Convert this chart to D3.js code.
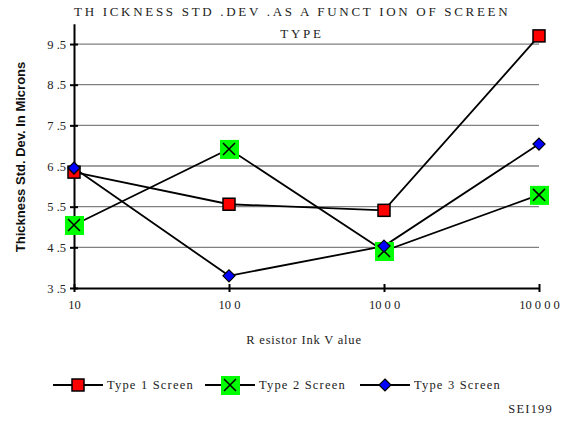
<!DOCTYPE html>
<html>
<head>
<script src="https://d3js.org/d3.v7.min.js"></script>
<style>
  body { margin: 0; background: #fff; }
  text { font-family: "Liberation Serif", serif; }
</style>
</head>
<body>
<svg width="572" height="430"></svg>
<script>
  const inkValues = [10, 100, 1000, 10000];
  const type1 = [6.35, 5.56, 5.41, 9.7];
  const type2 = [5.05, 6.92, 4.41, 5.79];
  const type3 = [6.45, 3.8, 4.53, 7.04];
  const yTicks = [3.5, 4.5, 5.5, 6.5, 7.5, 8.5, 9.5];
  const xTickLabels = ["10", "10 0", "10 0 0", "10 0 0 0"];

  const svg = d3.select("svg");
  const x = d3.scaleLog().domain([10, 10000]).range([74, 539]);
  const y = d3.scaleLinear().domain([3.5, 10]).range([288, 23.7]);

  // grid
  svg.append("g").selectAll("line")
    .data(yTicks.slice(1))
    .enter().append("line")
    .attr("x1", 74).attr("x2", 539)
    .attr("y1", d => y(d)).attr("y2", d => y(d))
    .attr("stroke", "#808080").attr("stroke-width", 1.3);

  // y axis
  const yAxis = d3.axisLeft(y).tickValues(yTicks).tickSize(0).tickPadding(8)
    .tickFormat(d => d3.format(".1f")(d).replace(".", " ."));
  const gy = svg.append("g").attr("transform", "translate(74,0)").call(yAxis);
  gy.select(".domain").attr("stroke", "#000").attr("stroke-width", 2);
  gy.selectAll("text").attr("font-family", "Liberation Serif").attr("font-size", 12.5).attr("fill", "#222");
  gy.selectAll(".tick").append("line").attr("x1", -4).attr("x2", 4).attr("stroke", "#000").attr("stroke-width", 2);

  // x axis
  const xAxis = d3.axisBottom(x).tickValues(inkValues).tickSize(0).tickPadding(12)
    .tickFormat((d, i) => xTickLabels[i]);
  const gx = svg.append("g").attr("transform", "translate(0,288)").call(xAxis);
  gx.select(".domain").attr("stroke", "#000").attr("stroke-width", 2);
  gx.selectAll("text").attr("font-family", "Liberation Serif").attr("font-size", 12.5).attr("fill", "#222");
  gx.selectAll(".tick").append("line").attr("y1", -4).attr("y2", 4).attr("stroke", "#000").attr("stroke-width", 2);

  const line = d3.line().x((d, i) => x(inkValues[i])).y(d => y(d));
  const series = [
    {name: "Type 1 Screen", values: type1, shape: "square"},
    {name: "Type 2 Screen", values: type2, shape: "cross"},
    {name: "Type 3 Screen", values: type3, shape: "diamond"}
  ];

  function marker(g, shape) {
    if (shape === "square") {
      g.append("rect").attr("x", -6).attr("y", -6).attr("width", 12).attr("height", 12)
        .attr("fill", "#ff0000").attr("stroke", "#000").attr("stroke-width", 1.5);
    } else if (shape === "cross") {
      g.append("rect").attr("x", -9).attr("y", -9).attr("width", 19).attr("height", 19)
        .attr("fill", "#00ff00");
      g.append("path").attr("d", "M-6,-6L6,6M-6,6L6,-6").attr("stroke", "#000").attr("stroke-width", 1.5);
    } else {
      g.append("path").attr("d", "M0,-6L6,0L0,6L-6,0Z")
        .attr("fill", "#0000ff").attr("stroke", "#000").attr("stroke-width", 1.2);
    }
  }

  series.forEach(s => {
    svg.append("path").datum(s.values).attr("d", line)
      .attr("fill", "none").attr("stroke", "#000").attr("stroke-width", 1.8);
  });
  series.forEach(s => {
    s.values.forEach((v, i) => {
      const g = svg.append("g").attr("transform", `translate(${x(inkValues[i])},${y(v)})`);
      marker(g, s.shape);
    });
  });

  // titles
  svg.append("text").attr("x", 74).attr("y", 16)
    .attr("font-size", 13).attr("letter-spacing", 2.7).attr("fill", "#222")
    .text("TH ICKNESS STD .DEV .AS A FUNCT ION OF SCREEN");
  svg.append("text").attr("x", 302).attr("y", 38).attr("text-anchor", "middle")
    .attr("font-size", 13).attr("letter-spacing", 2.7).attr("fill", "#222")
    .text("TYPE");

  svg.append("text").attr("transform", "translate(25,157) rotate(-90)")
    .attr("text-anchor", "middle")
    .attr("font-weight", "bold").attr("font-size", 13).attr("fill", "#111")
    .style("font-family", "'Liberation Sans', Arial, sans-serif")
    .text("Thickness Std. Dev. In Microns");

  svg.append("text").attr("x", 304).attr("y", 344).attr("text-anchor", "middle")
    .attr("font-size", 12.5).attr("letter-spacing", 0.8).attr("fill", "#222")
    .text("R esistor Ink V alue");

  // legend
  const legendX = [53, 205, 360];
  series.forEach((s, i) => {
    const g = svg.append("g").attr("transform", `translate(${legendX[i]},385)`);
    g.append("line").attr("x1", 0).attr("x2", 50).attr("stroke", "#000").attr("stroke-width", 1.8);
    marker(g.append("g").attr("transform", "translate(25,0)"), s.shape);
    g.append("text").attr("x", 54).attr("y", 4).attr("font-size", 12.5).attr("letter-spacing", 1.2)
      .attr("fill", "#222").text(s.name);
  });

  svg.append("text").attr("x", 553).attr("y", 413).attr("text-anchor", "end")
    .attr("font-size", 12.5).attr("letter-spacing", 1.2).attr("fill", "#222").text("SEI199");
</script>
</body>
</html>
